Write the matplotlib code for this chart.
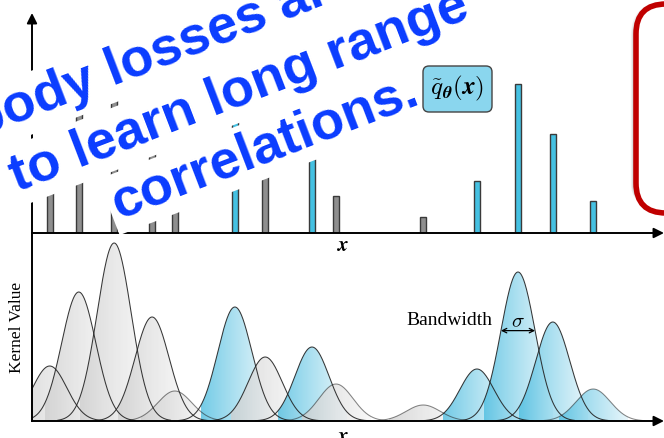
import numpy as np
import matplotlib
matplotlib.use("Agg")
import matplotlib.pyplot as plt
from matplotlib.patches import FancyBboxPatch, Polygon
from matplotlib.colors import LinearSegmentedColormap

plt.rcParams["mathtext.fontset"] = "cm"

# ---- data -------------------------------------------------------------
positions = [0.28, 0.74, 1.30, 1.90, 2.26, 3.21, 3.69, 4.43, 4.81, 6.19, 7.04, 7.69, 8.24, 8.88]
weights = [0.055, 0.129, 0.178, 0.104, 0.030, 0.114, 0.064, 0.074, 0.037, 0.016, 0.052, 0.149, 0.099, 0.032]
from_model = [0, 0, 0, 0, 0, 1, 0, 1, 0, 0, 1, 1, 1, 1]
bandwidth = 0.27
headline = ["body losses are", "to learn long range", "correlations."]

W, H = 664, 438
fig = plt.figure(figsize=(W / 100, H / 100), dpi=100)


def frac(x0, y0, x1, y1):
    """pixel box (y downwards) -> figure fraction rect"""
    return [x0 / W, 1 - y1 / H, (x1 - x0) / W, (y1 - y0) / H]


GRAY, CYAN, EDGE = "#8f8f8f", "#45c1e2", "#3a3a3a"

# ---- top panel: histogram of samples ------------------------------------
ax_top = fig.add_axes(frac(32, 13, 664, 233))
ax_top.set_xlim(0, 10)
ax_top.set_ylim(0, 0.220)
ax_top.axis("off")
bar_colors = [CYAN if m else GRAY for m in from_model]
ax_top.bar(positions, weights, width=0.095, color=bar_colors,
           edgecolor=EDGE, linewidth=1.0, zorder=2)
arrow = dict(arrowstyle="-|>", lw=1.4, color="k", mutation_scale=15,
             shrinkA=0, shrinkB=0)
ax_top.annotate("", xy=(1, 0), xytext=(0, 0), xycoords="axes fraction",
                arrowprops=arrow, zorder=3)
ax_top.annotate("", xy=(0, 1), xytext=(0, 0), xycoords="axes fraction",
                arrowprops=arrow, zorder=3)

# ---- bottom panel: kernels ---------------------------------------------
ax_bot = fig.add_axes(frac(32, 233, 664, 421))
ax_bot.set_xlim(0, 10)
ax_bot.set_ylim(0, 0.188)
ax_bot.axis("off")

gray_cmap = LinearSegmentedColormap.from_list("g", ["#cfcfcf", "#f7f7f7"])
cyan_cmap = LinearSegmentedColormap.from_list("c", ["#4cbde0", "#e2f4fa"])
grad = np.linspace(0, 1, 256)[None, :]

for c, w, m in zip(positions, weights, from_model):
    xs = np.linspace(c - 3.3 * bandwidth, c + 3.3 * bandwidth, 300)
    ys = w * np.exp(-0.5 * ((xs - c) / bandwidth) ** 2)
    poly = Polygon(np.column_stack([np.r_[xs, xs[::-1]], np.r_[ys, np.zeros_like(ys)]]),
                   closed=True, facecolor="none", edgecolor="none")
    ax_bot.add_patch(poly)
    img = ax_bot.imshow(grad, cmap=cyan_cmap if m else gray_cmap, aspect="auto",
                        extent=[c - 2.0 * bandwidth, c + 2.0 * bandwidth, 0, w],
                        alpha=0.78, zorder=2, interpolation="bilinear")
    img.set_clip_path(poly)
    outline_alpha = 0.9 if w > 0.045 else 0.55
    ax_bot.plot(xs, ys, color="#222222", lw=0.75, alpha=outline_alpha, zorder=3)

ax_bot.set_xlim(0, 10)
ax_bot.set_ylim(0, 0.188)
ax_bot.plot([0, 0], [0, 1], transform=ax_bot.transAxes, color="k", lw=1.4,
            zorder=4, clip_on=False)
ax_bot.annotate("", xy=(1, 0), xytext=(0, 0), xycoords="axes fraction",
                arrowprops=arrow, zorder=4)

# bandwidth marker (+/- one sigma) on the tallest model kernel
peak = int(np.argmax([w if m else 0 for w, m in zip(weights, from_model)]))
pc, pw = positions[peak], weights[peak]
level = pw * np.exp(-0.5)
ax_bot.annotate("", xy=(pc + bandwidth, level), xytext=(pc - bandwidth, level),
                arrowprops=dict(arrowstyle="<->", lw=0.9, color="k",
                                mutation_scale=8, shrinkA=0, shrinkB=0), zorder=5)
ax_bot.text(pc, level + 0.009, r"$\sigma$", ha="center", va="center", fontsize=15, zorder=5)
ax_bot.text(pc - bandwidth - 0.13, level + 0.010, "Bandwidth", ha="right", va="center",
            fontsize=14, family="Liberation Serif", zorder=5)

fig.text(17 / W, 1 - 327 / H, "Kernel Value", rotation=90, ha="center", va="center",
         fontsize=12.5, family="Liberation Serif")
fig.text(343 / W, 1 - 245 / H, r"$\boldsymbol{x}$", ha="center", va="center", fontsize=15)
fig.text(343 / W, 1 - 436 / H, r"$\boldsymbol{x}$", ha="center", va="center", fontsize=15)

# ---- overlay: callouts and headline --------------------------------------
ov = fig.add_axes([0, 0, 1, 1], zorder=10)
ov.set_xlim(0, W)
ov.set_ylim(H, 0)
ov.axis("off")
ov.patch.set_alpha(0)

angle = 21
slope = np.tan(np.radians(angle))
starts = [(-22, 86 + 136 * slope),
          (17, 154 + 97 * slope),
          (118.5, 218.5)]
for (sx, sy), line in zip(starts, headline):
    ov.text(sx, sy, line, rotation=angle, rotation_mode="anchor", ha="left",
            va="baseline", fontsize=39, fontweight="bold", family="Liberation Sans",
            color="#0a3cff", zorder=5,
            bbox=dict(boxstyle="square,pad=0.09", facecolor="white", edgecolor="none"))

# model-distribution tag
ov.add_patch(FancyBboxPatch((426, 69), 63, 40, boxstyle="round,pad=3,rounding_size=6",
                            facecolor="#8ad6ee", edgecolor="#444444", lw=1.0, zorder=8))
ov.text(457.5, 88, r"$\tilde{q}_{\boldsymbol{\theta}}(\boldsymbol{x})$", ha="center",
        va="center", fontsize=18, zorder=9)

# red callout frame with soft shadow
for k, a in enumerate([0.05, 0.07, 0.09, 0.11]):
    ov.add_patch(FancyBboxPatch((636 - 1 + k * 0.3, 4 + 2 + k * 0.5), 120, 209,
                                boxstyle="round,pad=0,rounding_size=30",
                                facecolor="none", edgecolor="black",
                                lw=6 - k, alpha=a, zorder=6))
ov.add_patch(FancyBboxPatch((636, 4), 120, 209, boxstyle="round,pad=0,rounding_size=30",
                            facecolor="white", edgecolor="#c00000", lw=4.0, zorder=7))

fig.savefig("out.png", dpi=100)
